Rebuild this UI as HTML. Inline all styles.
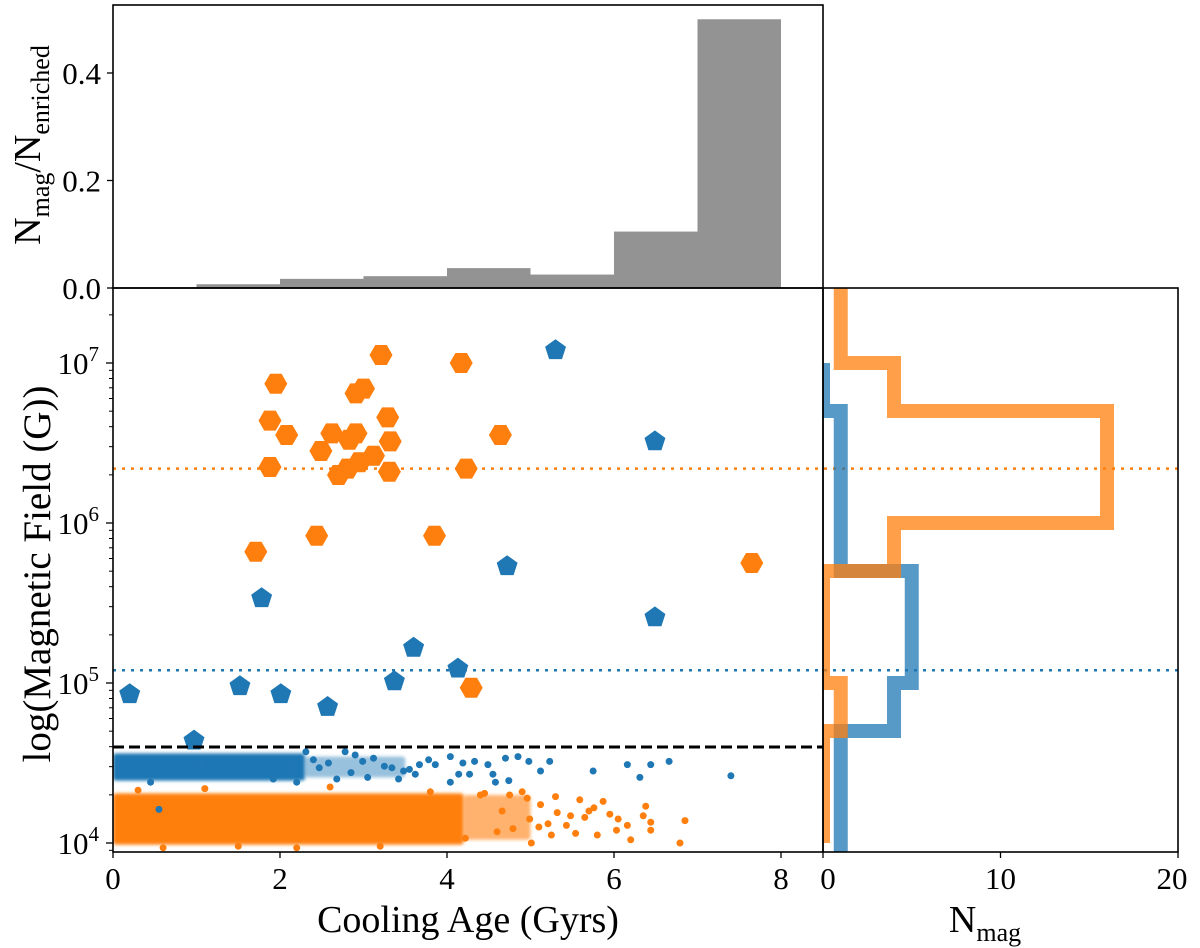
<!DOCTYPE html>
<html><head><meta charset="utf-8"><style>
html,body{margin:0;padding:0;background:#fff;}
svg{display:block;font-family:"Liberation Serif",serif;}
</style></head><body>
<svg id="chart" width="1200" height="948" viewBox="0 0 1200 948" xmlns="http://www.w3.org/2000/svg">
<g id="layer"></g>
</svg>
<script>
// ---- data ----
const histBinEdges = [0,1,2,3,4,5,6,7,8];
const histFraction = [0,0.007,0.017,0.022,0.037,0.025,0.105,0.5];
const topTicks = [0.0,0.2,0.4];
const xTicks = [0,2,4,6,8];
const rightTicks = [0,10,20];
const yDecades = [4,5,6,7];

const orangeBigAge = [3.21,4.17,1.95,2.91,3.00,1.88,2.08,3.29,2.62,2.83,2.91,3.32,4.64,2.49,3.12,2.95,2.81,2.70,1.88,3.31,4.23,2.44,3.85,1.71,4.29,7.65];
const orangeBigLogB = [7.05,7.00,6.87,6.81,6.84,6.64,6.55,6.66,6.56,6.52,6.56,6.51,6.55,6.45,6.42,6.38,6.34,6.30,6.35,6.32,6.34,5.92,5.92,5.82,4.97,5.75];
const blueBigAge = [5.30,6.49,4.72,6.49,1.78,3.60,4.13,3.37,0.20,1.52,2.01,2.57,0.97];
const blueBigLogB = [7.08,6.51,5.73,5.41,5.53,5.22,5.09,5.01,4.93,4.98,4.93,4.85,4.64];

const blueSmallAge = [2.31,2.78,2.99,3.12,3.34,3.48,3.67,3.86,4.04,4.19,4.33,4.49,4.70,4.85,4.98,5.12,5.23,5.75,6.16,6.31,6.44,6.66,7.40,4.04,4.58,4.74,4.55,4.14,4.27,2.68,3.62,1.92,2.14,2.47,2.58,2.40,2.90,3.25,3.55,0.45,0.55,1.05,3.05,3.42,3.78,2.85,2.20];
const blueSmallLogB = [4.57,4.57,4.51,4.53,4.47,4.45,4.49,4.49,4.54,4.50,4.51,4.49,4.53,4.54,4.51,4.45,4.51,4.45,4.49,4.41,4.49,4.51,4.42,4.38,4.38,4.39,4.43,4.43,4.43,4.40,4.43,4.40,4.47,4.47,4.50,4.52,4.55,4.48,4.46,4.38,4.21,4.48,4.41,4.40,4.52,4.44,4.38];
const orangeSmallAge = [4.96,5.12,5.59,5.87,5.76,6.38,6.05,6.16,6.35,6.44,6.85,6.03,6.44,6.79,5.01,5.32,5.48,5.21,5.43,5.70,4.79,4.60,5.54,4.22,4.99,4.66,5.80,5.95,6.20,4.40,3.80,4.90,5.30,2.60,1.10,0.30,5.10,5.65,5.25,4.45,4.75,0.6,1.5,2.2,3.2];
const orangeSmallLogB = [4.28,4.24,4.27,4.26,4.22,4.23,4.15,4.11,4.17,4.13,4.14,4.08,4.08,4.00,4.00,4.19,4.17,4.12,4.11,4.20,4.09,4.07,4.06,4.03,4.15,4.20,4.05,4.18,4.02,4.30,4.32,4.32,4.29,4.35,4.34,4.33,4.10,4.16,4.05,4.31,4.30,3.97,3.98,3.97,3.98];
// dense clouds: [ageMin, ageMax, logMin, logMax, density]
const orangeCloud = [[0,4.2,3.99,4.31,1],[4.2,5.0,4.02,4.30,0.6]];
const blueCloud = [[0,2.3,4.39,4.56,1],[2.3,3.5,4.41,4.54,0.45]];

const rightEdges = [4.0,4.7,5.0,5.7,6.0,6.7,7.0,7.7];
const orangeCounts = [0,1,0,4,16,4,1];
const blueEdges = [3.85,4.7,5.0,5.7,6.0,6.7,7.0];
const blueCounts = [1,4,5,1,1,0];

const orangeMedianLogB = 6.34;
const blueMedianLogB = 5.08;
const cutoffLogB = 4.6;

// ---- axes ----
const L=113,R=823,RR=1178,T=5,MID=288,B=852;
const xs = v => L + v*83.5;
const ys = l => 843 - (l-4)*160;
const yt = f => MID - f*537.5;
const xr = n => R + n*17.75;
const NS="http://www.w3.org/2000/svg";
const g=document.getElementById('layer');
function el(tag,attrs,parent){const e=document.createElementNS(NS,tag);for(const k in attrs)e.setAttribute(k,attrs[k]);(parent||g).appendChild(e);return e;}
const OR="#ff7f0e", BL="#1f77b4";

const defs=el('defs',{});
const c1=el('clipPath',{id:'cmain'},defs); el('rect',{x:L,y:MID,width:R-L,height:B-MID},c1);
const c2=el('clipPath',{id:'cright'},defs); el('rect',{x:R,y:MID,width:RR-R,height:B-MID},c2);
const fb=el('filter',{id:'soft',x:'-5%',y:'-30%',width:'110%',height:'160%'},defs); el('feGaussianBlur',{stdDeviation:1.5},fb);

// top histogram
for(let i=0;i<histFraction.length;i++){
  const r=el('rect',{x:xs(histBinEdges[i]),y:yt(histFraction[i]),width:xs(histBinEdges[i+1])-xs(histBinEdges[i]),height:MID-yt(histFraction[i]),fill:'#939393'});
  
  
}

// main scatter
const gm=el('g',{'clip-path':'url(#cmain)'});


orangeCloud.forEach(c=>{const r=el('rect',{x:xs(c[0]),y:ys(c[3]),width:xs(c[1])-xs(c[0]),height:ys(c[2])-ys(c[3]),rx:3,fill:OR,opacity:c[4],filter:'url(#soft)'},gm);
  
  });
blueCloud.forEach(c=>{const r=el('rect',{x:xs(c[0]),y:ys(c[3]),width:xs(c[1])-xs(c[0]),height:ys(c[2])-ys(c[3]),rx:3,fill:BL,opacity:c[4],filter:'url(#soft)'},gm);
  
  });
orangeSmallAge.forEach((a,i)=>{const c=el('circle',{cx:xs(a),cy:ys(orangeSmallLogB[i]),r:3.5,fill:OR},gm);
  
  });
blueSmallAge.forEach((a,i)=>{const c=el('circle',{cx:xs(a),cy:ys(blueSmallLogB[i]),r:3.5,fill:BL},gm);
  
  });

let ln=el('line',{x1:L,x2:R,y1:ys(cutoffLogB),y2:ys(cutoffLogB),stroke:'#000','stroke-width':3,'stroke-dasharray':'11,5'});


ln=el('line',{x1:L,x2:RR,y1:ys(orangeMedianLogB),y2:ys(orangeMedianLogB),stroke:OR,'stroke-width':2.5,'stroke-dasharray':'3,6'});


ln=el('line',{x1:L,x2:RR,y1:ys(blueMedianLogB),y2:ys(blueMedianLogB),stroke:BL,'stroke-width':2.5,'stroke-dasharray':'3,6'});



function poly(cx,cy,r,n,rot){const p=[];for(let k=0;k<n;k++){const a=rot+k*2*Math.PI/n;p.push((cx+r*Math.cos(a)).toFixed(1)+','+(cy+r*Math.sin(a)).toFixed(1));}return p.join(' ');}
orangeBigAge.forEach((a,i)=>{const p=el('polygon',{points:poly(xs(a),ys(orangeBigLogB[i]),11.5,6,0),fill:OR},gm);
  
  });
blueBigAge.forEach((a,i)=>{const p=el('polygon',{points:poly(xs(a),ys(blueBigLogB[i]),11,5,-Math.PI/2),fill:BL},gm);
  
  });

// right step histograms
const gr=el('g',{'clip-path':'url(#cright)'});
function stepPath(edges,counts){let d='M'+xr(0)+','+ys(edges[0]);for(let i=0;i<counts.length;i++){d+=' L'+xr(counts[i])+','+ys(edges[i])+' L'+xr(counts[i])+','+ys(edges[i+1]);}d+=' L'+xr(0)+','+ys(edges[edges.length-1]);return d;}
let sp=el('path',{d:stepPath(blueEdges,blueCounts),fill:'none',stroke:BL,'stroke-width':14,'stroke-opacity':0.75,'stroke-linejoin':'miter'},gr);


sp=el('path',{d:stepPath(rightEdges,orangeCounts),fill:'none',stroke:OR,'stroke-width':14,'stroke-opacity':0.75,'stroke-linejoin':'miter'},gr);



[[L,T,R-L,MID-T],[L,MID,R-L,B-MID],[R,MID,RR-R,B-MID]].forEach((f,i)=>{const r=el('rect',{x:f[0],y:f[1],width:f[2],height:f[3],fill:'none',stroke:'#000','stroke-width':1.6});
  
  });

function txt(x,y,s,size,anchor,name){const t=el('text',{x:x,y:y,'font-size':size,'text-anchor':anchor||'middle',fill:'#000'});t.textContent=s;return t;}

const TF=31;
topTicks.forEach(v=>{el('line',{x1:L-6,x2:L,y1:yt(v),y2:yt(v),stroke:'#000','stroke-width':1.3});
  txt(L-12,yt(v)+11,v.toFixed(1),TF,'end','top-y-tick-label');});
xTicks.forEach(v=>{el('line',{x1:xs(v),x2:xs(v),y1:B,y2:B+6,stroke:'#000','stroke-width':1.3});
  txt(xs(v),B+37,String(v),TF,'middle','x-tick-label');});
rightTicks.forEach(v=>{el('line',{x1:xr(v),x2:xr(v),y1:B,y2:B+6,stroke:'#000','stroke-width':1.3});
  txt(xr(v)+(v===0?5:(v===20?-6:0)),B+37,String(v),TF,'middle','right-x-tick-label');});
yDecades.forEach(d=>{el('line',{x1:L-7,x2:L,y1:ys(d),y2:ys(d),stroke:'#000','stroke-width':1.3});
  const t=txt(L-14,ys(d)+11,'10',TF,'end','y-tick-label');
  const s=el('tspan',{dy:-13,'font-size':21});s.textContent=String(d);t.appendChild(s);
  for(let m=2;m<10;m++){const l=d+Math.log10(m);const y=ys(l);if(y<MID)continue;el('line',{x1:L-4,x2:L,y1:y,y2:y,stroke:'#000','stroke-width':1});}
});
{const y=ys(3+Math.log10(9));if(y<B)el('line',{x1:L-4,x2:L,y1:y,y2:y,stroke:'#000','stroke-width':1});}

txt(468,932,'Cooling Age (Gyrs)',38,'middle','x-axis-title');
let t=txt(985,932,'N',38,'middle','right-x-axis-title');
let sb=el('tspan',{dy:9,'font-size':26});sb.textContent='mag';t.appendChild(sb);
t=el('text',{x:0,y:0,'font-size':39,'text-anchor':'middle',transform:'translate(50,574) rotate(-90)'});
t.textContent='log(Magnetic Field (G))';


t=el('text',{x:0,y:0,'font-size':38,'text-anchor':'middle',transform:'translate(40,145) rotate(-90)'});


t.appendChild(document.createTextNode('N'));
sb=el('tspan',{dy:9,'font-size':26},t);sb.textContent='mag';
sb=el('tspan',{dy:-9},t);sb.textContent='/N';
sb=el('tspan',{dy:9,'font-size':26},t);sb.textContent='enriched';
</script>
</body></html>
